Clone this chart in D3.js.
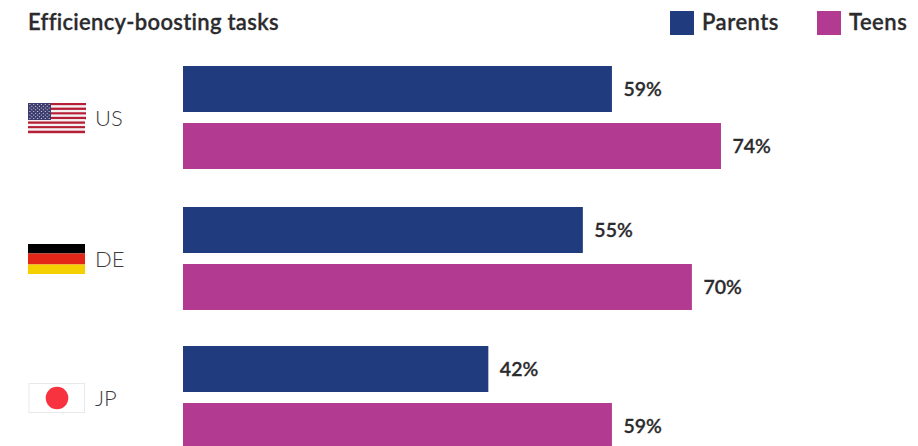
<!DOCTYPE html>
<html>
<head>
<meta charset="utf-8">
<script src="https://cdn.jsdelivr.net/npm/d3@7"></script>
<style>
html,body{margin:0;padding:0;background:#fff;overflow:hidden}
svg{display:block}
text{font-family:Lato,"Noto Sans",sans-serif}
.strong{stroke:#2b2b2d;stroke-width:0.3px}
</style>
</head>
<body>
<svg id="chart" width="918" height="446"></svg>
<script>
const title = "Efficiency-boosting tasks";
const countries = ["US", "DE", "JP"];
const seriesNames = ["Parents", "Teens"];
const parents = [59, 55, 42];
const teens = [74, 70, 59];
const seriesColors = ["#203c7f", "#b33a91"];

const svg = d3.select("#chart");
const ink = "#2b2b2d";

const x = d3.scaleLinear().domain([0, 100]).range([183, 910]);
const groupTop = d3.scaleOrdinal().domain(countries).range([66, 207, 346]);
const inner = d3.scaleBand().domain(seriesNames).range([0, 103]).paddingInner(11 / 57).paddingOuter(0);

svg.append("text").attr("class", "strong").attr("x", 28).attr("y", 30)
  .attr("font-size", 22).attr("font-weight", 600).attr("letter-spacing", 0.3).attr("fill", ink).text(title);

// Legend swatches and names
const legendX = [670, 817];
seriesNames.forEach((name, i) => {
  svg.append("rect").attr("x", legendX[i]).attr("y", 11).attr("width", 24).attr("height", 24)
    .attr("fill", seriesColors[i]);
  svg.append("text").attr("class", "strong").attr("x", legendX[i] + 32).attr("y", 30)
    .attr("font-size", 22).attr("font-weight", 600).attr("letter-spacing", 0.5).attr("fill", ink).text(name);
});

// Paired bars with value labels
[parents, teens].forEach((values, s) => {
  const name = seriesNames[s];
  const rows = countries.map((c, i) => ({ c, v: values[i] }));
  svg.selectAll(null).data(rows).join("rect")
    .attr("x", x(0))
    .attr("y", d => groupTop(d.c) + inner(name))
    .attr("width", d => x(d.v) - x(0))
    .attr("height", inner.bandwidth())
    .attr("fill", seriesColors[s]);
  svg.selectAll(null).data(rows).join("text")
    .attr("class", "strong")
    .attr("x", d => x(d.v) + 11.5)
    .attr("y", d => groupTop(d.c) + inner(name) + inner.bandwidth() / 2 + 7.4)
    .attr("font-size", 19.5).attr("font-weight", 600).attr("fill", ink)
    .text(d => d.v + "%");
});

// Country codes
countries.forEach(c => {
  svg.append("text").attr("x", 95).attr("y", groupTop(c) + 60)
    .attr("font-size", 22).attr("font-weight", 300).attr("fill", "#3c3c3e").text(c);
});

// Flags, each inside a 57 by 30 box
function flagUS(g) {
  const stripe = d3.scaleBand().domain(d3.range(13)).range([0, 30]);
  g.selectAll(null).data(d3.range(13)).join("rect")
    .attr("x", 0).attr("y", d => stripe(d)).attr("width", d => d < 7 ? 58 : 57)
    .attr("height", stripe.bandwidth() + 0.2)
    .attr("fill", d => d % 2 ? "#f4f1f2" : "#b51f35");
  g.append("rect").attr("width", 23).attr("height", 17).attr("fill", "#3c3b6e");
  const stars = [];
  for (let r = 0; r < 9; r++) {
    const n = r % 2 ? 5 : 6;
    for (let k = 0; k < n; k++) stars.push([(r % 2 ? 3.8 : 1.9) + k * 3.85, 1.5 + r * 1.75]);
  }
  g.selectAll(null).data(stars).join("circle")
    .attr("cx", d => d[0]).attr("cy", d => d[1]).attr("r", 0.6).attr("fill", "#e6e6ee");
}
function flagDE(g) {
  const bands = [["#000000", 0, 9.5], ["#e32618", 9.5, 11], ["#f5d000", 20.5, 9.5]];
  g.selectAll(null).data(bands).join("rect")
    .attr("width", 57).attr("y", d => d[1]).attr("height", d => d[2]).attr("fill", d => d[0]);
}
function flagJP(g) {
  g.append("rect").attr("x", 1).attr("y", 0.5).attr("width", 55.5).attr("height", 29)
    .attr("fill", "#fff").attr("stroke", "#e9e9e9").attr("stroke-width", 1);
  g.append("circle").attr("cx", 29).attr("cy", 15).attr("r", 11.3).attr("fill", "#f73340");
}
const flags = { US: flagUS, DE: flagDE, JP: flagJP };
const flagTop = { US: 103, DE: 244, JP: 383 };
countries.forEach(c => {
  flags[c](svg.append("g").attr("transform", `translate(28,${flagTop[c]})`));
});
</script>
</body>
</html>
